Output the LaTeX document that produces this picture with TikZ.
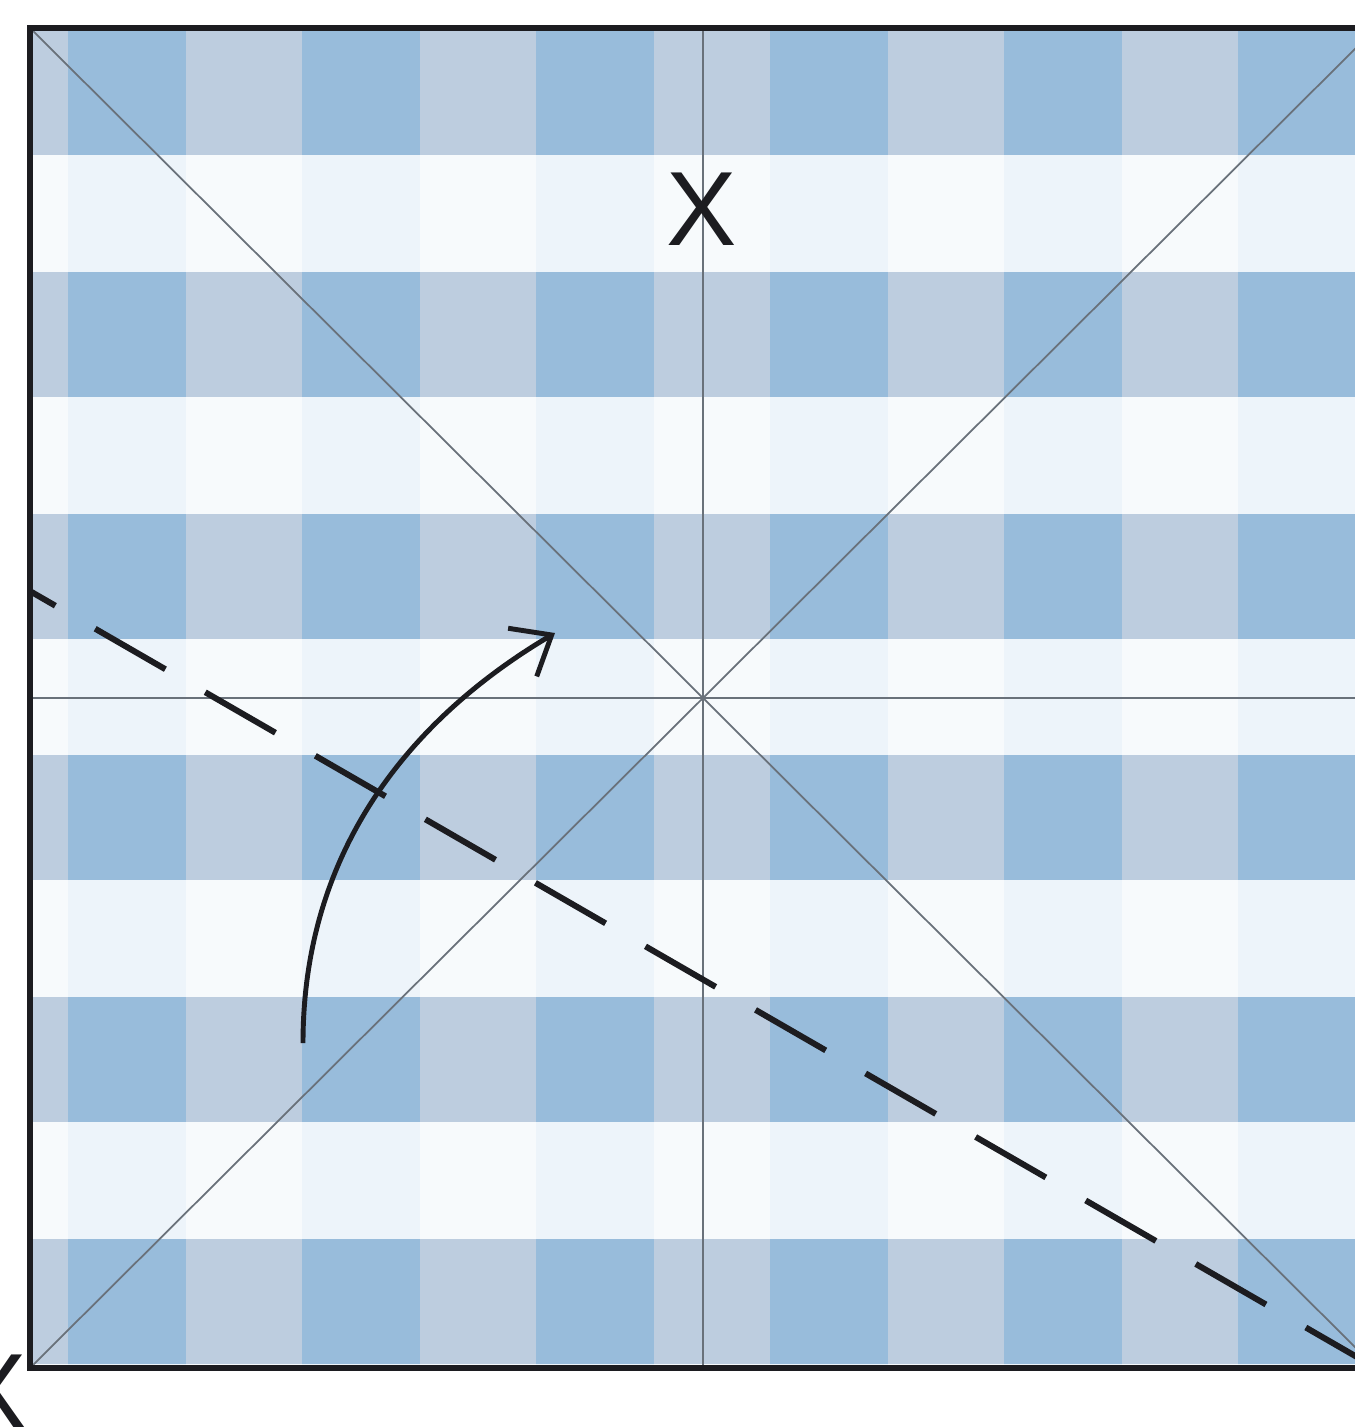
\documentclass[tikz,border=0pt]{standalone}
\usepackage{fontspec}
\newfontfamily\markfont{Liberation Sans}
\usetikzlibrary{arrows.meta}

\definecolor{cloth}{RGB}{247,250,252}
\definecolor{tint}{RGB}{237,244,250}
\definecolor{band}{RGB}{189,205,223}
\definecolor{check}{RGB}{152,188,219}
\definecolor{creasegray}{RGB}{105,113,122}
\definecolor{ink}{RGB}{28,28,32}

\begin{document}
\begin{tikzpicture}[
    x=0.01cm, y=-0.01cm,
    every node/.style={font=\markfont\fontsize{30}{30}\selectfont, text=ink, inner sep=0pt},
    frame/.style={line width=1.7pt, draw=ink},
    creaseline/.style={line width=0.5pt, draw=creasegray},
    foldline/.style={line width=1.7pt, draw=ink, dash pattern=on 8.1mm off 4.6mm},
    turn/.style={line width=1.4pt, draw=ink, -{Straight Barb[length=3.4mm, width=5.6mm]}}
  ]
    \path[use as bounding box, fill=white] (0,0) rectangle (1355,1427);
    \clip (0,0) rectangle (1355,1427);

    % corners, middle and fold points
    \coordinate (tl) at (30,28);
    \coordinate (tr) at (1376,28);
    \coordinate (bl) at (30,1368);
    \coordinate (br) at (1376,1368);
    \coordinate (tm) at (703,28);
    \coordinate (bm) at (703,1368);
    \coordinate (lm) at (30,698);
    \coordinate (rm) at (1376,698);
    \coordinate (dl) at (-10,568);
    \coordinate (turnstart) at (303,1043);
    \coordinate (turnend) at (555,633);

    % gingham paper
    \begin{scope}
      \clip (tl) rectangle (br);
      \fill[cloth] (tl) rectangle (br);
      \foreach \c in {0,...,5}
        \fill[tint] ({68+234*\c},28) rectangle ++(118,1340);
      \foreach \r in {0,...,5} {
        \fill[band] (30,{30+241.8*\r}) rectangle ++(1346,125);
        \foreach \c in {0,...,5}
          \fill[check] ({68+234*\c},{30+241.8*\r}) rectangle ++(118,125);
      }
    \end{scope}

    % creases
    \draw[creaseline] (tl) -- (br);
    \draw[creaseline] (bl) -- (tr);
    \draw[creaseline] (tm) -- (bm);
    \draw[creaseline] (lm) -- (rm);

    % fold
    \begin{scope}
      \clip (tl) rectangle (br);
      \draw[foldline] (br) -- (dl);
    \end{scope}
    \draw[turn] (turnstart) .. controls (303,860) and (400,725) .. (turnend);

    \draw[frame] (tl) rectangle (br);

    % labels
    \node (xtop) at (702,209) {X};
    \node (xcorner) at (-8,1391) {X};
\end{tikzpicture}
\end{document}
